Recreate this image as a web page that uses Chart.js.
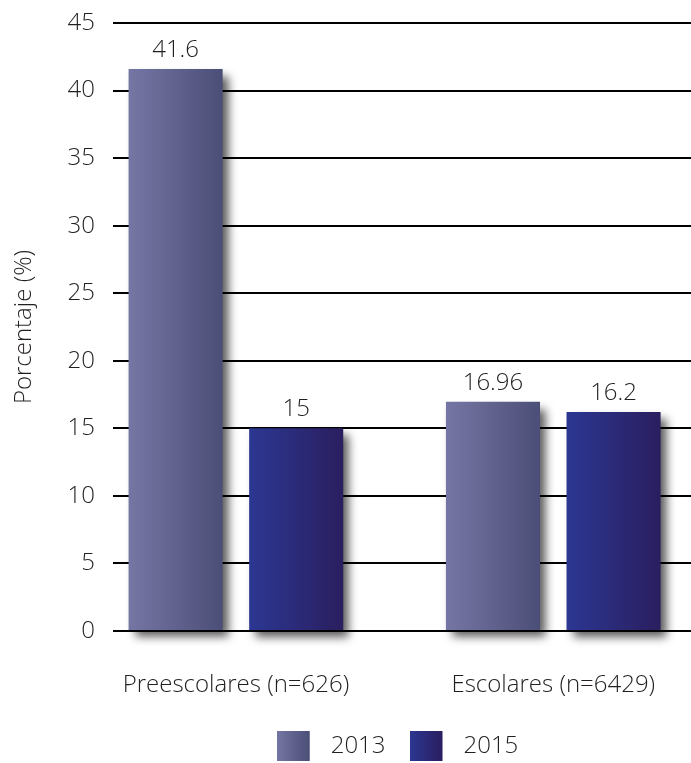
<!DOCTYPE html>
<html>
<head>
<meta charset="utf-8">
<script src="https://cdn.jsdelivr.net/npm/chart.js@4/dist/chart.umd.min.js"></script>
<style>
  html, body { margin: 0; padding: 0; background: #fff; overflow: hidden; }
  #wrap { width: 691px; height: 763px; }
</style>
</head>
<body>
<div id="wrap"><canvas id="barChart" width="691" height="763"></canvas></div>
<script>
const categories = ['Preescolares (n=626)', 'Escolares (n=6429)'];
const years = ['2013', '2015'];
const values2013 = [41.6, 16.96];
const values2015 = [15, 16.2];
const yMax = 45;
const yStep = 5;

const textColor = '#231f20';
const fontFamily = '"Open Sans", "DejaVu Sans", sans-serif';
const fontWeight = 300;

// left -> right colour stops for each series
const shades = {
    '2013': ['#7676a4', '#4b4e77'],
    '2015': ['#2c3792', '#2a1e5f']
};

// small gradient swatch used as the legend marker
function legendSwatch(stops) {
    const c = document.createElement('canvas');
    c.width = 42; c.height = 30;
    const g = c.getContext('2d');
    const grad = g.createLinearGradient(0, 0, 33, 0);
    grad.addColorStop(0, stops[0]);
    grad.addColorStop(1, stops[1]);
    g.fillStyle = grad;
    g.fillRect(0, 0, 33, 30);
    return c;
}

// give each bar its own horizontal gradient and a soft drop shadow
const barStyle = {
    id: 'barStyle',
    beforeDatasetsDraw(chart) {
        const ctx = chart.ctx;
        chart.data.datasets.forEach((ds, i) => {
            const stops = shades[ds.label];
            chart.getDatasetMeta(i).data.forEach(bar => {
                const left = bar.x - bar.width / 2;
                const grad = ctx.createLinearGradient(left, 0, left + bar.width, 0);
                grad.addColorStop(0, stops[0]);
                grad.addColorStop(1, stops[1]);
                // options are shared between bars, so copy before changing
                bar.options = Object.assign({}, bar.options, { backgroundColor: grad });
            });
        });
        ctx.save();
        ctx.shadowColor = 'rgba(0,0,0,0.65)';
        ctx.shadowBlur = 9;
        ctx.shadowOffsetX = 6;
        ctx.shadowOffsetY = 7;
    },
    afterDatasetsDraw(chart) {
        const ctx = chart.ctx;
        ctx.restore();
        ctx.save();
        ctx.font = fontWeight + ' 24px ' + fontFamily;
        ctx.fillStyle = textColor;
        ctx.textAlign = 'center';
        ctx.textBaseline = 'alphabetic';
        chart.data.datasets.forEach((ds, i) => {
            chart.getDatasetMeta(i).data.forEach((bar, j) => {
                ctx.fillText(String(ds.data[j].y), bar.x, bar.y - 12);
            });
        });
        ctx.restore();
    },
    afterLayout(chart) {
        // legend sits a bit right of centre
        const lg = chart.legend;
        lg.left += 52; lg.right += 52;
        lg.top += 5; lg.bottom += 5;
    }
};

new Chart(document.getElementById('barChart'), {
    type: 'bar',
    data: {
        datasets: [
            {
                label: years[0],
                data: values2013.map((v, i) => ({ x: i, y: v })),
                clip: false,
                pointStyle: legendSwatch(shades['2013'])
            },
            {
                label: years[1],
                data: values2015.map((v, i) => ({ x: i, y: v })),
                clip: false,
                pointStyle: legendSwatch(shades['2015'])
            }
        ]
    },
    options: {
        responsive: false,
        animation: false,
        barPercentage: 0.78,
        categoryPercentage: 0.76,
        layout: { padding: { top: 23, left: 0, right: 0, bottom: 0 } },
        scales: {
            x: {
                type: 'linear',
                offset: false,
                min: -0.34,
                max: 1.434,
                grid: { display: false },
                border: { display: false },
                ticks: {
                    stepSize: 1,
                    includeBounds: false,
                    padding: 32,
                    color: textColor,
                    font: { size: 24, family: fontFamily, weight: fontWeight },
                    callback: v => categories[v] ?? ''
                },
                afterFit(scale) { scale.height = 74; }
            },
            y: {
                min: 0,
                max: yMax,
                border: { display: false },
                grid: {
                    color: '#000',
                    lineWidth: 2,
                    tickLength: 15,
                    tickColor: '#000',
                    tickWidth: 2
                },
                ticks: {
                    stepSize: yStep,
                    padding: 18,
                    color: textColor,
                    font: { size: 24, family: fontFamily, weight: fontWeight }
                },
                title: {
                    display: true,
                    text: 'Porcentaje (%)',
                    color: textColor,
                    font: { size: 24, family: fontFamily, weight: fontWeight },
                    padding: { top: 10, bottom: 0 }
                },
                afterFit(scale) {
                    scale.width = 128;
                    scale.paddingTop = 0;
                    scale.paddingBottom = 0;
                }
            }
        },
        plugins: {
            legend: {
                position: 'bottom',
                labels: {
                    usePointStyle: true,
                    pointStyleWidth: 42,
                    padding: 24,
                    color: textColor,
                    font: { size: 24, family: fontFamily, weight: fontWeight }
                }
            },
            tooltip: { enabled: false }
        }
    },
    plugins: [barStyle]
});
</script>
</body>
</html>
